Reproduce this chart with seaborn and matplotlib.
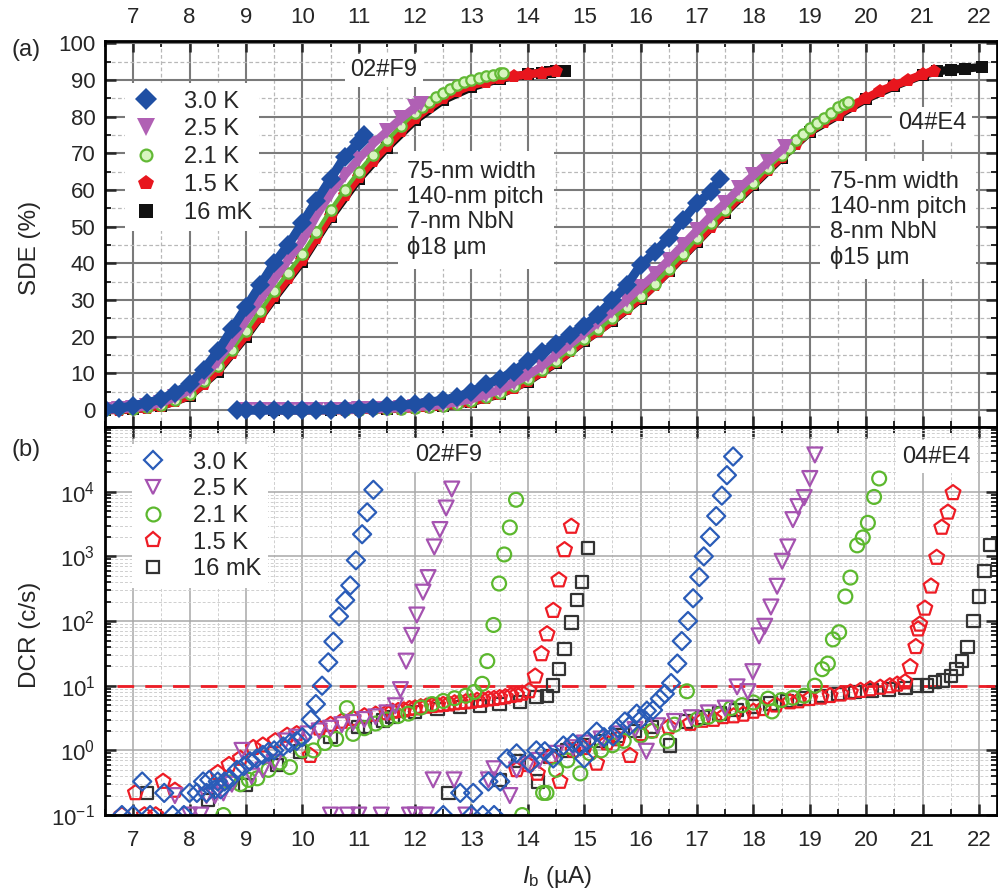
import numpy as np
import pandas as pd
import matplotlib
matplotlib.use("Agg")
import matplotlib.pyplot as plt
from matplotlib.lines import Line2D
from matplotlib.ticker import MultipleLocator, LogLocator, NullFormatter, FixedLocator
import seaborn as sns

sns.set_style("white")
plt.rcParams['font.family'] = ['Liberation Sans', 'DejaVu Sans']
plt.rcParams['mathtext.fontset'] = 'custom'
plt.rcParams['mathtext.rm'] = 'Liberation Sans'
plt.rcParams['mathtext.it'] = 'Liberation Sans:italic'
plt.rcParams['mathtext.bf'] = 'Liberation Sans:bold'

# ---------------- data: panel (a) SDE (%) vs bias current (uA) ----------------
TEMPS = ["3.0 K", "2.5 K", "2.1 K", "1.5 K", "16 mK"]

F9_30K_I = [6.5, 6.75, 7.0, 7.25, 7.5, 7.75, 8.0, 8.25, 8.5, 8.75, 9.0, 9.25, 9.5, 9.75, 10.0, 10.25, 10.5, 10.75, 11.0, 11.1]
F9_30K_SDE = [0.2, 0.5, 1.2, 2.0, 3.0, 4.8, 7.0, 11, 16, 22, 28, 34, 40, 45, 51, 57, 63, 69, 73, 75]
F9_25K_I = [6.5, 6.75, 7.0, 7.25, 7.5, 7.75, 8.0, 8.25, 8.5, 8.75, 9.0, 9.25, 9.5, 9.75, 10.0, 10.25, 10.5, 10.75, 11.0, 11.25, 11.5, 11.75, 12.0, 12.1]
F9_25K_SDE = [0.1, 0.3, 0.5, 1.1, 2.0, 3.5, 5.4, 9, 13.5, 18.5, 24.5, 30, 35.5, 41, 46, 53, 59, 64, 68.5, 72.5, 76, 79.5, 82.5, 83.5]
F9_21K_I = [6.5, 6.75, 7.0, 7.25, 7.5, 7.75, 8.0, 8.25, 8.5, 8.75, 9.0, 9.25, 9.5, 9.75, 10.0, 10.25, 10.5, 10.75, 11.0, 11.25, 11.5, 11.75, 12.0, 12.125, 12.25, 12.375, 12.5, 12.625, 12.75, 12.875, 13.0, 13.125, 13.25, 13.375, 13.5, 13.55]
F9_21K_SDE = [0.1, 0.2, 0.3, 0.8, 1.5, 2.8, 4.5, 8, 12, 16.5, 21.5, 27, 32.5, 37.5, 42.5, 48.5, 54.5, 60, 65, 69.5, 73.5, 77.5, 81, 82.5, 84, 85.3, 86.5, 87.5, 88.5, 89.3, 90, 90.5, 91, 91.4, 91.8, 92]
F9_15K_I = [6.5, 6.75, 7.0, 7.25, 7.5, 7.75, 8.0, 8.25, 8.5, 8.75, 9.0, 9.25, 9.5, 9.75, 10.0, 10.25, 10.5, 10.75, 11.0, 11.25, 11.5, 11.75, 12.0, 12.25, 12.5, 12.75, 13.0, 13.25, 13.5, 13.75, 14.0, 14.25, 14.5]
F9_15K_SDE = [0, 0.1, 0.2, 0.6, 1.2, 2.4, 4, 7.2, 11, 15.5, 20.5, 25.5, 31, 36, 41, 47, 53, 58.5, 63.5, 68, 72, 76, 79.5, 82.5, 85, 87, 88.5, 89.5, 90.5, 91, 91.5, 92, 92.5]
F9_16mK_I = [6.5, 7.0, 7.5, 8.0, 8.5, 9.0, 9.5, 10.0, 10.5, 11.0, 11.5, 12.0, 12.5, 13.0, 13.5, 14.0, 14.25, 14.4, 14.5, 14.65]
F9_16mK_SDE = [0, 0.2, 1.1, 3.8, 10.5, 20, 30.5, 40.5, 52.5, 63, 71.5, 79, 84.5, 88, 90.3, 91.5, 92, 92.2, 92.3, 92.5]

E4_30K_I = [8.85, 9.0, 9.25, 9.5, 9.75, 10.0, 10.25, 10.5, 10.75, 11.0, 11.25, 11.5, 11.75, 12.0, 12.25, 12.5, 12.75, 13.0, 13.25, 13.5, 13.75, 14.0, 14.25, 14.5, 14.75, 15.0, 15.25, 15.5, 15.75, 16.0, 16.25, 16.5, 16.75, 17.0, 17.25, 17.4]
E4_30K_SDE = [0, 0, 0, 0, 0, 0, 0.1, 0.1, 0.3, 0.4, 0.7, 1.0, 1.3, 1.7, 2.2, 2.7, 3.6, 5, 7, 8.5, 10.5, 13.5, 15.8, 18, 20.5, 23, 26, 30, 34, 39.5, 43, 47, 51.8, 56.4, 59.5, 63]
E4_25K_I = [9.0, 9.25, 9.5, 9.75, 10.0, 10.25, 10.5, 10.75, 11.0, 11.25, 11.5, 11.75, 12.0, 12.25, 12.5, 12.75, 13.0, 13.25, 13.5, 13.75, 14.0, 14.25, 14.5, 14.75, 15.0, 15.25, 15.5, 15.75, 16.0, 16.25, 16.5, 16.75, 17.0, 17.25, 17.5, 17.75, 18.0, 18.25, 18.56]
E4_25K_SDE = [0, 0, 0, 0, 0, 0, 0, 0, 0.2, 0.3, 0.4, 0.6, 0.8, 1.1, 1.5, 2.2, 3, 4.2, 5.5, 7.5, 9.5, 12, 15, 18, 21, 24, 27, 30, 33.5, 37, 41, 45, 49, 53, 56.5, 60.5, 64, 67.5, 71.7]
E4_21K_I = [9.5, 9.75, 10.0, 10.25, 10.5, 10.75, 11.0, 11.25, 11.5, 11.75, 12.0, 12.25, 12.5, 12.75, 13.0, 13.25, 13.5, 13.75, 14.0, 14.25, 14.5, 14.75, 15.0, 15.25, 15.5, 15.75, 16.0, 16.25, 16.5, 16.75, 17.0, 17.25, 17.5, 17.75, 18.0, 18.25, 18.5, 18.625, 18.75, 18.875, 19.0, 19.125, 19.25, 19.375, 19.5, 19.6, 19.68]
E4_21K_SDE = [0, 0, 0, 0, 0, 0, 0.1, 0.2, 0.3, 0.45, 0.6, 0.9, 1.2, 1.8, 2.5, 3.6, 4.8, 6.5, 8.5, 11, 13.5, 16.5, 19.5, 22, 25, 28, 31, 34.5, 38.5, 42.5, 47, 51, 54.5, 58.5, 62, 66, 69.5, 71.5, 73.5, 75.3, 77, 78.3, 79.5, 81, 82.5, 83.3, 84]
E4_15K_I = [9.5, 9.75, 10.0, 10.25, 10.5, 10.75, 11.0, 11.25, 11.5, 11.75, 12.0, 12.25, 12.5, 12.75, 13.0, 13.25, 13.5, 13.75, 14.0, 14.25, 14.5, 14.75, 15.0, 15.25, 15.5, 15.75, 16.0, 16.25, 16.5, 16.75, 17.0, 17.25, 17.5, 17.75, 18.0, 18.25, 18.5, 18.75, 19.0, 19.25, 19.5, 19.75, 20.0, 20.25, 20.5, 20.75, 21.0, 21.2]
E4_15K_SDE = [0, 0, 0, 0, 0, 0, 0.1, 0.2, 0.3, 0.4, 0.5, 0.8, 1.1, 1.6, 2.3, 3.3, 4.5, 6, 8, 10.5, 13, 16, 19, 21.5, 24.5, 27.5, 30.5, 34, 38, 42, 46, 50, 54, 58, 61.5, 65.5, 69, 72.5, 76, 78.5, 80.5, 83, 85, 87, 88.5, 90, 91.5, 92.5]
E4_16mK_I = [9.5, 10.5, 11.5, 12.5, 13.0, 13.5, 14.0, 14.5, 15.0, 15.5, 16.0, 16.5, 17.0, 17.5, 18.0, 18.5, 19.0, 19.5, 20.0, 20.5, 21.0, 21.25, 21.5, 21.75, 22.05]
E4_16mK_SDE = [0, 0, 0.3, 1.0, 2.2, 4.3, 7.8, 12.8, 18.8, 24.3, 30.3, 37.8, 45.8, 53.8, 61.3, 68.8, 75.8, 80.3, 84.8, 88.3, 91.3, 92.3, 92.8, 93.1, 93.5]

# ---------------- data: panel (b) DCR (c/s) vs bias current (uA) ----------------
F9_30K_DI = [6.8, 7.0, 7.16, 7.3, 7.55, 7.7, 7.9, 8.0, 8.13, 8.24, 8.35, 8.5, 8.62, 8.72, 8.84, 8.96, 9.07, 9.19, 9.3, 9.4, 9.5, 9.66, 9.78, 9.9, 10.0, 10.15, 10.24, 10.35, 10.46, 10.55, 10.65, 10.76, 10.85, 10.95, 11.06, 11.15, 11.26, 8.3, 8.45, 8.55]
F9_30K_DCR = [0.1, 0.1, 0.33, 0.1, 0.22, 0.1, 0.1, 0.22, 0.22, 0.33, 0.35, 0.33, 0.33, 0.36, 0.5, 0.57, 0.68, 0.75, 0.85, 0.95, 1.0, 1.15, 1.3, 1.4, 1.6, 3.0, 5.2, 10, 23, 48, 118, 210, 355, 870, 2200, 4800, 10700, 0.22, 0.25, 0.25]
F9_25K_DI = [7.74, 8.0, 8.2, 8.3, 8.45, 8.6, 8.75, 8.93, 9.1, 9.3, 9.5, 9.7, 9.9, 10.1, 10.3, 10.5, 10.5, 10.7, 10.8, 10.9, 11.0, 11.1, 11.3, 11.4, 11.5, 11.65, 11.74, 11.84, 11.94, 12.03, 12.14, 12.23, 12.34, 12.44, 12.55, 12.65, 11.9, 12.2]
F9_25K_DCR = [0.2, 0.1, 0.1, 0.2, 0.2, 0.22, 0.3, 1.0, 0.4, 0.5, 0.65, 1.4, 1.6, 1.8, 2.0, 2.2, 0.1, 2.5, 0.1, 2.7, 0.1, 3.0, 3.3, 0.1, 3.8, 4.9, 8.7, 24, 60, 124, 280, 470, 1400, 2600, 5600, 11000, 0.1, 0.1]
F9_21K_DI = [8.6, 8.72, 8.9, 9.05, 9.2, 9.4, 9.6, 9.78, 10.0, 10.2, 10.4, 10.6, 10.79, 10.9, 11.1, 11.3, 11.5, 11.7, 11.88, 12.1, 12.3, 12.5, 12.7, 12.9, 13.05, 13.19, 13.28, 13.39, 13.49, 13.58, 13.68, 13.79]
F9_21K_DCR = [0.1, 0.32, 0.3, 0.35, 0.37, 0.5, 0.65, 0.55, 1.0, 1.0, 1.3, 1.5, 4.5, 1.8, 2.2, 2.6, 3.0, 3.4, 3.7, 4.6, 5.2, 5.8, 6.4, 7.0, 8.0, 10.7, 24, 87, 380, 1070, 2800, 7500]
F9_15K_DI = [6.8, 7.04, 7.2, 7.4, 7.53, 7.74, 8.5, 8.7, 8.9, 9.13, 9.3, 9.52, 9.73, 9.9, 10.14, 10.3, 10.5, 10.7, 10.9, 11.1, 11.3, 11.5, 11.7, 11.9, 12.1, 12.3, 12.5, 12.7, 12.9, 13.1, 13.3, 13.5, 13.7, 13.9, 14.02, 14.13, 14.24, 14.34, 14.45, 14.55, 14.65, 14.77,
             11.6, 11.8, 12.0, 12.2, 12.4, 12.6, 12.8, 13.0, 13.2, 13.4, 13.6, 13.8]
F9_15K_DCR = [0.1, 0.22, 0.1, 0.1, 0.33, 0.24, 0.45, 0.6, 0.75, 1.1, 1.2, 1.4, 1.7, 1.8, 0.83, 2.2, 2.5, 2.8, 3.1, 3.4, 3.6, 3.8, 4.1, 4.4, 4.7, 4.9, 5.1, 5.4, 5.6, 5.9, 6.2, 6.5, 7.0, 7.6, 8.3, 14, 31, 63, 145, 430, 1260, 2900,
              4.0, 4.2, 4.5, 4.8, 5.0, 5.2, 5.5, 5.7, 6.0, 6.3, 6.7, 7.2]
F9_16mK_DI = [7.25, 8.33, 8.99, 9.55, 9.96, 10.5, 10.99, 11.1, 11.43, 11.6, 12.0, 12.4, 12.59, 12.8, 13.15, 13.5, 13.86, 14.15, 14.34, 14.45, 14.55, 14.65, 14.77, 14.87, 14.96, 15.07]
F9_16mK_DCR = [0.22, 0.17, 0.29, 0.6, 0.96, 1.6, 2.3, 2.3, 2.9, 3.3, 3.9, 4.4, 0.22, 4.7, 4.9, 5.2, 5.6, 6.7, 7, 10, 18, 37, 95, 210, 400, 1360]

E4_30K_DI = [12.5, 12.8, 13.0, 13.03, 13.3, 13.51, 13.63, 13.8, 14.04, 14.3, 14.63, 14.93, 15.22, 15.51, 15.72, 15.93, 16.11, 16.22, 16.34, 16.43, 16.54, 16.65, 16.73, 16.84, 16.93, 17.04, 17.12, 17.23, 17.34, 17.44, 17.53, 17.64, 13.2, 13.4,
             14.15, 14.45, 14.8, 15.05, 15.35, 15.0, 15.6, 15.8, 16.0]
E4_30K_DCR = [0.1, 0.22, 0.1, 0.22, 0.33, 0.33, 0.75, 0.9, 0.63, 0.97, 1.19, 1.15, 1.95, 1.64, 2.8, 3.7, 4.1, 4.2, 6.3, 7.5, 11, 22, 49, 100, 225, 480, 1000, 2000, 4200, 8700, 18000, 35000, 0.1, 0.1,
              1.0, 0.75, 1.3, 1.4, 1.6, 0.75, 2.2, 2.4, 3.0]
E4_25K_DI = [12.32, 12.69, 13.3, 13.4, 13.68, 13.8, 14.0, 14.2, 14.5, 14.8, 15.0, 15.3, 15.6, 15.9, 16.1, 16.3, 16.6, 16.9, 17.2, 17.5, 17.71, 17.9, 17.99, 18.1, 18.2, 18.31, 18.42, 18.51, 18.61, 18.7, 18.79, 18.9, 19.0, 19.09, 12.0, 12.9]
E4_25K_DCR = [0.35, 0.35, 0.35, 0.52, 0.2, 0.5, 0.6, 0.7, 0.9, 1.1, 1.3, 1.5, 1.8, 2.1, 0.97, 2.4, 2.8, 3.2, 3.8, 4.5, 9.6, 8.1, 16.5, 59, 83, 165, 345, 840, 1400, 3700, 5900, 8100, 16000, 37000, 0.1, 0.1]
E4_21K_DI = [13.9, 14.27, 14.33, 14.5, 14.7, 14.93, 15.1, 15.3, 15.5, 15.7, 16.0, 16.2, 16.47, 16.6, 16.82, 17.0, 17.2, 17.4, 17.6, 17.8, 18.0, 18.26, 18.33, 18.5, 18.7, 18.9, 19.09, 19.22, 19.32, 19.41, 19.52, 19.63, 19.72, 19.84, 19.94, 20.03, 20.14, 20.23]
E4_21K_DCR = [0.1, 0.22, 0.22, 0.5, 0.7, 0.44, 0.9, 1.0, 1.2, 1.4, 1.7, 2.0, 1.4, 2.5, 8.2, 3.0, 3.3, 3.6, 4.5, 5.0, 5.5, 6.3, 4.0, 6.0, 6.5, 7.0, 10, 18, 22, 52, 67, 240, 470, 1480, 1960, 3300, 8300, 16000]
E4_15K_DI = [13.8, 14.0, 14.17, 14.4, 14.57, 14.8, 15.0, 15.22, 15.4, 15.6, 15.81, 16.0, 16.2, 16.5, 16.88, 17.1, 17.46, 17.82, 18.17, 18.4, 18.65, 19.0, 19.36, 19.72, 20.07, 20.42, 20.69, 20.78, 20.88, 20.92, 20.95, 21.04, 21.15, 21.25, 21.34, 21.45, 21.54,
             17.3, 17.65, 18.0, 18.8, 19.2, 19.55, 19.9, 20.25, 20.55]
E4_15K_DCR = [0.5, 0.6, 0.44, 0.8, 0.33, 1.0, 1.1, 0.63, 1.3, 1.5, 0.83, 1.8, 2.0, 2.3, 2.6, 2.9, 3.3, 3.6, 4.4, 5.0, 5.6, 6.3, 7.0, 7.9, 8.9, 9.9, 11.4, 19.6, 40, 75, 89, 157, 345, 960, 2800, 4800, 9600,
              3.0, 3.4, 4.0, 5.8, 6.6, 7.4, 8.4, 9.4, 10.5]
E4_16mK_DI = [13.5, 13.83, 14.18, 14.4, 14.7, 15.0, 15.3, 15.6, 15.9, 16.2, 16.52, 16.8, 17.1, 17.4, 17.7, 18.0, 18.3, 18.6, 18.9, 19.2, 19.5, 19.8, 20.1, 20.4, 20.7, 20.9, 21.08, 21.22, 21.36, 21.5, 21.6, 21.7, 21.8, 21.9, 22.0, 22.1, 22.2]
E4_16mK_DCR = [0.35, 0.68, 0.33, 0.8, 1.0, 1.2, 1.4, 1.7, 2.0, 2.3, 1.19, 2.8, 3.2, 3.7, 4.2, 4.8, 5.3, 5.8, 6.3, 6.9, 7.4, 8.0, 8.4, 8.8, 9.2, 10, 10, 11.5, 12, 14, 18, 24, 40, 100, 240, 600, 1500]

DCR_THRESHOLD = 10  # c/s

# ---------------- styling ----------------
COLORS_A = {"3.0 K": "#1f4fa3", "2.5 K": "#b060b4", "2.1 K": "#62b935", "1.5 K": "#e8161e", "16 mK": "#111111"}
COLORS_B = {"3.0 K": "#2a5cb8", "2.5 K": "#a552b0", "2.1 K": "#5cb82e", "1.5 K": "#ee1c25", "16 mK": "#333333"}
MARKERS = {"3.0 K": "D", "2.5 K": "v", "2.1 K": "o", "1.5 K": "p", "16 mK": "s"}
MS_A = {"3.0 K": 10, "2.5 K": 11.5, "2.1 K": 7.5, "1.5 K": 10.5, "16 mK": 8.5}
LW_A = {"3.0 K": 6.5, "2.5 K": 6, "2.1 K": 3, "1.5 K": 6, "16 mK": 6}
S_B = {"3.0 K": 85, "2.5 K": 115, "2.1 K": 100, "1.5 K": 125, "16 mK": 80}

SDE_SERIES = {
    "3.0 K": [(F9_30K_I, F9_30K_SDE), (E4_30K_I, E4_30K_SDE)],
    "2.5 K": [(F9_25K_I, F9_25K_SDE), (E4_25K_I, E4_25K_SDE)],
    "2.1 K": [(F9_21K_I, F9_21K_SDE), (E4_21K_I, E4_21K_SDE)],
    "1.5 K": [(F9_15K_I, F9_15K_SDE), (E4_15K_I, E4_15K_SDE)],
    "16 mK": [(F9_16mK_I, F9_16mK_SDE), (E4_16mK_I, E4_16mK_SDE)],
}
DCR_SERIES = {
    "3.0 K": [(F9_30K_DI, F9_30K_DCR), (E4_30K_DI, E4_30K_DCR)],
    "2.5 K": [(F9_25K_DI, F9_25K_DCR), (E4_25K_DI, E4_25K_DCR)],
    "2.1 K": [(F9_21K_DI, F9_21K_DCR), (E4_21K_DI, E4_21K_DCR)],
    "1.5 K": [(F9_15K_DI, F9_15K_DCR), (E4_15K_DI, E4_15K_DCR)],
    "16 mK": [(F9_16mK_DI, F9_16mK_DCR), (E4_16mK_DI, E4_16mK_DCR)],
}

FS_TICK = 16
FS_TEXT = 17

fig = plt.figure(figsize=(9.98, 8.93), dpi=100)
ax1 = fig.add_axes([0.1052, 0.5218, 0.8938, 0.4323])
ax2 = fig.add_axes([0.1052, 0.0873, 0.8938, 0.4345])

# ---------- panel (a) ----------
draw_order = ["16 mK", "1.5 K", "2.1 K", "2.5 K", "3.0 K"]
for z, key in enumerate(draw_order):
    for I, S in SDE_SERIES[key]:
        assert len(I) == len(S), (key, len(I), len(S))
        df = pd.DataFrame({"I": I, "SDE": S})
        c = COLORS_A[key]
        green = key == "2.1 K"
        sns.lineplot(data=df, x="I", y="SDE", ax=ax1, sort=False, estimator=None,
                     color=c, linewidth=LW_A[key],
                     marker=MARKERS[key], markersize=MS_A[key],
                     markerfacecolor="#d8f5c0" if green else c,
                     markeredgecolor=c, markeredgewidth=1.6 if green else 0,
                     zorder=3 + z)

ax1.set_xlim(6.5, 22.32)
ax1.set_ylim(-4.6, 100.6)
ax1.set_yticks(list(range(0, 101, 10)))
ax1.xaxis.set_major_locator(MultipleLocator(1))
ax1.xaxis.set_minor_locator(MultipleLocator(0.5))
ax1.yaxis.set_minor_locator(MultipleLocator(5))
ax1.set_axisbelow(True)
ax1.grid(which="major", color="#7a7a7a", lw=1.5, ls="-")
ax1.grid(which="minor", color="#b8b8b8", lw=0.9, ls=(0, (3, 2)))
ax1.tick_params(which="both", direction="in", top=True, right=True, bottom=True, left=True,
                labeltop=True, labelbottom=False, labelsize=FS_TICK)
ax1.tick_params(which="major", length=8, width=1.8)
ax1.tick_params(which="minor", length=4.5, width=1.4)
ax1.tick_params(axis="x", pad=9)
ax1.tick_params(axis="y", pad=7)
ax1.set_xlabel("")
ax1.set_ylabel("SDE (%)", fontsize=FS_TEXT + 0.5)
ax1.yaxis.set_label_coords(-0.072, 0.464)

# legend (a)
handles_a = [Line2D([], [], ls="none", marker=MARKERS[k], color=COLORS_A[k], ms=MS_A[k] + 1,
                    markerfacecolor="#d8f5c0" if k == "2.1 K" else COLORS_A[k],
                    markeredgecolor=COLORS_A[k], markeredgewidth=1.6 if k == "2.1 K" else 0)
             for k in TEMPS]
leg1 = ax1.legend(handles_a, TEMPS, loc="upper left", bbox_to_anchor=(0.022, 0.89),
                  frameon=True, fancybox=False, edgecolor="none", facecolor="white", framealpha=1,
                  fontsize=FS_TEXT, handlelength=1.2, handletextpad=1.0, labelspacing=0.25,
                  borderpad=0.3, borderaxespad=0)
leg1.set_zorder(20)

box = dict(facecolor="white", edgecolor="none", pad=4)
ax1.text(11.45, 92.6, "02#F9", fontsize=FS_TEXT, ha="center", va="center", bbox=box, zorder=2)
ax1.text(11.86, 54.5, "75-nm width\n140-nm pitch\n7-nm NbN\nϕ18 µm", fontsize=FS_TEXT,
         ha="left", va="center", linespacing=1.18, bbox=dict(facecolor="white", edgecolor="none", pad=7), zorder=2)
ax1.text(21.17, 78.2, "04#E4", fontsize=FS_TEXT, ha="center", va="center", bbox=box, zorder=2)
ax1.text(19.36, 51.8, "75-nm width\n140-nm pitch\n8-nm NbN\nϕ15 µm", fontsize=FS_TEXT,
         ha="left", va="center", linespacing=1.18, bbox=dict(facecolor="white", edgecolor="none", pad=7), zorder=2)

# ---------- panel (b) ----------
for z, key in enumerate(draw_order):
    for I, D in DCR_SERIES[key]:
        assert len(I) == len(D), (key, len(I), len(D))
        df = pd.DataFrame({"I": I, "DCR": D})
        c = COLORS_B[key]
        sns.scatterplot(data=df, x="I", y="DCR", ax=ax2, marker=MARKERS[key], s=S_B[key],
                        color=c, linewidth=1.6, zorder=3 + z)
        coll = ax2.collections[-1]
        coll.set_facecolor("none")
        coll.set_edgecolor(c)
        coll.set_linewidth(1.6)

ax2.hlines(DCR_THRESHOLD, 6.72, 22.32, colors="#ee1c25", linestyles=(0, (6, 4)), lw=2, zorder=2.5)

ax2.set_yscale("log")
ax2.set_xlim(6.5, 22.32)
ax2.set_ylim(0.1, 1e5)
ax2.xaxis.set_major_locator(MultipleLocator(1))
ax2.xaxis.set_minor_locator(MultipleLocator(0.5))
ax2.yaxis.set_major_locator(FixedLocator([1e-1, 1e0, 1e1, 1e2, 1e3, 1e4, 1e5]))
ax2.yaxis.set_minor_locator(LogLocator(base=10, subs=np.arange(2, 10), numticks=20))
ax2.yaxis.set_minor_formatter(NullFormatter())
ax2.set_yticklabels([r"$10^{-1}$", r"$10^{0}$", r"$10^{1}$", r"$10^{2}$", r"$10^{3}$", r"$10^{4}$", ""])
ax2.set_axisbelow(True)
ax2.grid(which="major", color="#a8a8a8", lw=1.1, ls="-")
ax2.grid(which="minor", color="#cfcfcf", lw=0.7, ls=(0, (3, 2)))
ax2.tick_params(which="both", direction="in", top=True, right=True, bottom=True, left=True,
                labelsize=FS_TICK)
ax2.tick_params(which="major", length=8, width=1.8)
ax2.tick_params(which="minor", length=4.5, width=1.4)
ax2.tick_params(axis="x", pad=11)
ax2.tick_params(axis="y", pad=7)
ax2.set_ylabel("DCR (c/s)", fontsize=FS_TEXT + 0.5)
ax2.yaxis.set_label_coords(-0.072, 0.464)
ax2.set_xlabel(r"$I_{\rm b}$ (µA)", fontsize=FS_TEXT + 0.5)
ax2.xaxis.set_label_coords(0.507, -0.125)

handles_b = [Line2D([], [], ls="none", marker=MARKERS[k], ms=np.sqrt(S_B[k]),
                    markerfacecolor="none", markeredgecolor=COLORS_B[k], markeredgewidth=1.6)
             for k in TEMPS]
leg2 = ax2.legend(handles_b, TEMPS, loc="upper left", bbox_to_anchor=(0.03, 0.955),
                  frameon=True, fancybox=False, edgecolor="none", facecolor="white", framealpha=1,
                  fontsize=FS_TEXT, handlelength=1.2, handletextpad=1.1, labelspacing=0.2,
                  borderpad=0.3, borderaxespad=0)
leg2.set_zorder(20)

ax2.text(12.6, 3.7e4, "02#F9", fontsize=FS_TEXT, ha="center", va="center", bbox=box, zorder=2)
ax2.text(21.25, 3.5e4, "04#E4", fontsize=FS_TEXT, ha="center", va="center", bbox=box, zorder=2)

for ax in (ax1, ax2):
    for sp in ax.spines.values():
        sp.set_linewidth(2)
        sp.set_color("black")
        sp.set_zorder(30)

fig.text(0.012, 1 - 50 / 893, "(a)", fontsize=FS_TEXT, ha="left", va="center")
fig.text(0.012, 1 - 450 / 893, "(b)", fontsize=FS_TEXT, ha="left", va="center")

fig.savefig("out.png", dpi=100)
